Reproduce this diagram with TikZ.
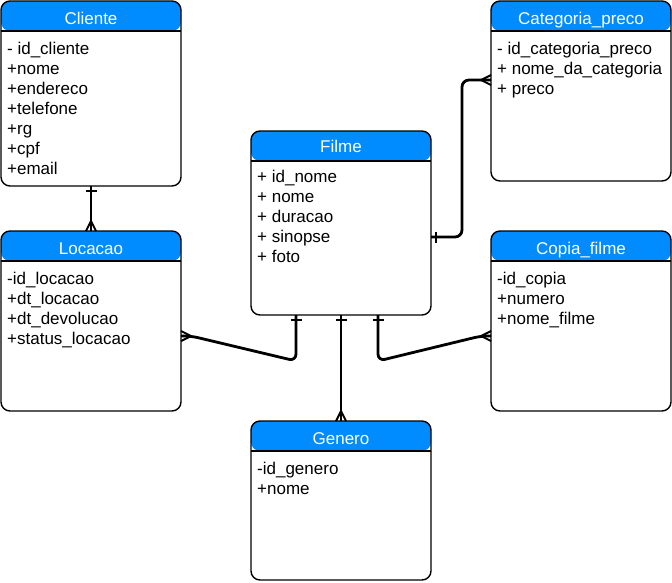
\documentclass[tikz,border=0pt]{standalone}
\usepackage{fontspec}
\setmainfont{Liberation Sans}
\definecolor{hdrblue}{RGB}{0,140,255}
\begin{document}
\begin{tikzpicture}[x=1pt,y=-1pt,
  tbl/.style={draw=black, line width=1.4pt, rounded corners=9pt,
    minimum width=180pt, anchor=north west, inner sep=0pt, outer sep=0pt,
    path picture={
      \fill[hdrblue] (path picture bounding box.north west)
        rectangle ([yshift=-30pt]path picture bounding box.north east);
      \draw[line width=1.2pt] ([yshift=-30pt]path picture bounding box.north west)
        -- ([yshift=-30pt]path picture bounding box.north east);}},
  title/.style={anchor=base, text=white, inner sep=0pt, font=\fontsize{17}{20}\selectfont},
  field/.style={anchor=base west, inner sep=0pt, font=\fontsize{17}{20}\selectfont},
  rel/.style={draw=black, line width=2.8pt, rounded corners=7pt},
  crowfoot/.pic={\draw[line width=2pt] (0,-5) -- (10,0) -- (0,5);},
  onebar/.pic={\draw[line width=2.8pt] (5,-5.5) -- (5,5.5);}
]
\useasboundingbox (0,0) rectangle (672,582);

% entity boxes
\node[tbl, minimum height=185pt] (cli) at (1,1) {};
\node[tbl, minimum height=180pt] (cat) at (491,1) {};
\node[tbl, minimum height=184pt] (fil) at (251,131) {};
\node[tbl, minimum height=180pt] (loc) at (1,231) {};
\node[tbl, minimum height=180pt] (cop) at (491,231) {};
\node[tbl, minimum height=159pt] (gen) at (251,421) {};

% titles
\node[title] (cli-t) at (91,24) {Cliente};
\node[title] (cat-t) at (581,24) {Categoria\_preco};
\node[title] (fil-t) at (341,152) {Filme};
\node[title] (loc-t) at (91,254) {Locacao};
\node[title] (cop-t) at (581,254) {Copia\_filme};
\node[title] (gen-t) at (341,444) {Genero};

% attributes
\foreach \t [count=\i] in {- id\_cliente,+nome,+endereco,+telefone,+rg,+cpf,+email}
  \node[field] (cli-\i) at (7,34+20*\i) {\t};
\foreach \t [count=\i] in {- id\_categoria\_preco,+ nome\_da\_categoria,+ preco}
  \node[field] (cat-\i) at (497,34+20*\i) {\t};
\foreach \t [count=\i] in {+ id\_nome,+ nome,+ duracao,+ sinopse,+ foto}
  \node[field] (fil-\i) at (257,162+20*\i) {\t};
\foreach \t [count=\i] in {-id\_locacao,+dt\_locacao,+dt\_devolucao,+status\_locacao}
  \node[field] (loc-\i) at (7,264+20*\i) {\t};
\foreach \t [count=\i] in {-id\_copia,+numero,+nome\_filme}
  \node[field] (cop-\i) at (497,264+20*\i) {\t};
\foreach \t [count=\i] in {-id\_genero,+nome}
  \node[field] (gen-\i) at (257,454+20*\i) {\t};

% relationships
\draw[rel] (cli.south) -- (loc.north);
\pic[rotate=-90] at (cli.south) {onebar};
\pic[rotate=90] at (loc.north) {crowfoot};

\draw[rel] ([yshift=-15pt]loc.east) -- ++(10,0) -- (296,361) -- ([xshift=-45pt]fil.south);
\pic at ([yshift=-15pt]loc.east) {crowfoot};
\pic[rotate=-90] at ([xshift=-45pt]fil.south) {onebar};

\draw[rel] (fil.south) -- (gen.north);
\pic[rotate=-90] at (fil.south) {onebar};
\pic[rotate=90] at (gen.north) {crowfoot};

\draw[rel] ([xshift=37pt]fil.south) -- (378,361) -- ([xshift=-10pt,yshift=-15pt]cop.west) -- ([yshift=-15pt]cop.west);
\pic[rotate=-90] at ([xshift=37pt]fil.south) {onebar};
\pic[rotate=180] at ([yshift=-15pt]cop.west) {crowfoot};

\draw[rel] ([yshift=-14pt]fil.east) -- (462,237) -- (462,80) -- ([yshift=11pt]cat.west);
\pic at ([yshift=-14pt]fil.east) {onebar};
\pic[rotate=180] at ([yshift=11pt]cat.west) {crowfoot};
\end{tikzpicture}
\end{document}
